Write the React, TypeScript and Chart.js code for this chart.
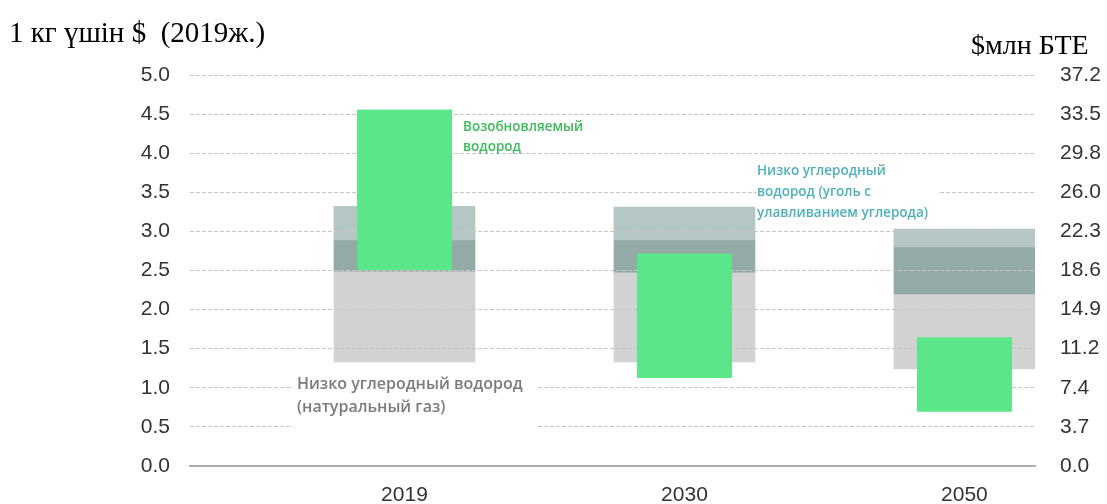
import React, { useEffect, useRef } from 'react';
import { Chart, registerables } from 'chart.js';

Chart.register(...registerables);

// ---- data ----
const categories = ['2019', '2030', '2050'];
const categoryPos = [0, 1, 2];
const natGasLow = [1.33, 1.33, 1.24];
const natGasHigh = [2.49, 2.48, 2.2];
const coalMid = [2.89, 2.89, 2.8];
const coalHigh = [3.32, 3.31, 3.03];
const renewLow = [2.51, 1.13, 0.7];
const renewHigh = [4.55, 2.71, 1.64];
const rightTicks = ['0.0', '3.7', '7.4', '11.2', '14.9', '18.6', '22.3', '26.0', '29.8', '33.5', '37.2'];

const leftTitle = '1 кг үшін $  (2019ж.)';
const rightTitle = '$млн БТЕ';

const renewLabel = ['Возобновляемый', 'водород'];
const coalLabel = ['Низко углеродный', 'водород (уголь с', 'улавливанием углерода)'];
const gasLabel = ['Низко углеродный водород', '(натуральный газ)'];

// label anchors in data units (x, y of first line centre)
const annotations = [
  { lines: renewLabel, x: 0.209, y: 4.335, color: '#3dba5c', size: 13.5, lh: 20, bg: null as null | number[] },
  { lines: coalLabel, x: 1.259, y: 3.772, color: '#4fb0bd', size: 13.5, lh: 21, bg: [0, 10, 8, 9] },
  { lines: gasLabel, x: -0.384, y: 1.049, color: '#7b7b7b', size: 16, lh: 23, bg: [4, 14, 12, 26] },
];

const floating = (lo: number[], hi: number[]) =>
  categoryPos.map((x, i) => ({ x, y: [lo[i], hi[i]] }));

const annotationPlugin = {
  id: 'annotationsAndGrid',
  afterDatasetsDraw(chart: any) {
    const ctx = chart.ctx;
    const area = chart.chartArea;
    const ys = chart.scales.y;
    const xs = chart.scales.x;
    // redraw dashed grid above grey boxes
    ctx.save();
    ctx.beginPath();
    ctx.rect(area.left, area.top - 2, area.right - area.left, area.bottom - area.top + 4);
    ctx.clip();
    ys.drawGrid(area);
    ctx.restore();
    // green bars on top of grid
    const meta = chart.getDatasetMeta(0);
    meta.controller.draw();
    // labels
    for (const a of annotations) {
      const px = xs.getPixelForValue(a.x);
      const py = ys.getPixelForValue(a.y);
      ctx.save();
      ctx.font = `600 ${a.size}px "Open Sans", sans-serif`;
      if (a.bg) {
        let w = 0;
        for (const l of a.lines) w = Math.max(w, ctx.measureText(l).width);
        const [pl, pr, pt, pb] = a.bg;
        ctx.fillStyle = '#ffffff';
        ctx.fillRect(px - pl, py - pt, w + pl + pr, (a.lines.length - 1) * a.lh + pt + pb);
      }
      ctx.fillStyle = a.color;
      ctx.textAlign = 'left';
      ctx.textBaseline = 'middle';
      a.lines.forEach((l, i) => ctx.fillText(l, px, py + i * a.lh));
      ctx.restore();
    }
  },
};

const tickFont = { family: '"Liberation Sans", Arial, sans-serif', size: 21 };

export default function App() {
  const ref = useRef<HTMLCanvasElement | null>(null);
  useEffect(() => {
    if (!ref.current) return;
    const chart = new Chart(ref.current, {
      type: 'bar',
      data: {
        datasets: [
          { label: 'renew', data: floating(renewLow, renewHigh) as any, backgroundColor: '#5be68a', barThickness: 94, grouped: false, order: 0 } as any,
          { label: 'coalTop', data: floating(coalMid, coalHigh) as any, backgroundColor: '#b4c7c4', barThickness: 141, grouped: false, order: 1 } as any,
          { label: 'coalMid', data: floating(natGasHigh, coalMid) as any, backgroundColor: '#93aaa6', barThickness: 141, grouped: false, order: 1 } as any,
          { label: 'gas', data: floating(natGasLow, natGasHigh) as any, backgroundColor: '#d2d2d2', barThickness: 141, grouped: false, order: 1 } as any,
        ],
      },
      options: {
        responsive: false,
        animation: false,
        devicePixelRatio: 1,
        layout: { padding: { top: 75, left: 0, right: 0, bottom: 0 } },
        plugins: { legend: { display: false }, tooltip: { enabled: false } },
        scales: {
          x: {
            type: 'linear',
            offset: false,
            min: -0.766,
            max: 2.252,
            afterBuildTicks: (s: any) => {
              s.ticks = categoryPos.map((v) => ({ value: v }));
            },
            afterFit: (s: any) => {
              s.height = 38;
            },
            ticks: {
              callback: (_v: any, i: number) => categories[i],
              font: tickFont,
              color: '#333333',
              padding: 17,
              maxRotation: 0,
              autoSkip: false,
            },
            grid: { display: false, drawTicks: false },
            border: { display: true, color: '#b0b0b0', width: 2 },
          },
          y: {
            position: 'left',
            min: 0,
            max: 5,
            afterFit: (s: any) => {
              s.width = 190;
            },
            ticks: {
              stepSize: 0.5,
              callback: (v: any) => Number(v).toFixed(1),
              font: tickFont,
              color: '#333333',
              padding: 20,
            },
            grid: {
              drawTicks: false,
              lineWidth: 1,
              color: (c: any) => (c.tick && c.tick.value === 0 ? 'rgba(0,0,0,0)' : '#c6c6c6'),
            },
            border: { display: false, dash: [4, 2] },
          },
          y1: {
            position: 'right',
            min: 0,
            max: 5,
            afterFit: (s: any) => {
              s.width = 72;
            },
            ticks: {
              stepSize: 0.5,
              callback: (_v: any, i: number) => rightTicks[i],
              font: tickFont,
              color: '#333333',
              padding: 25,
            },
            grid: { display: false, drawTicks: false },
            border: { display: false },
          },
        },
      } as any,
      plugins: [annotationPlugin],
    });
    return () => chart.destroy();
  }, []);

  return (
    <div style={{ position: 'fixed', left: 0, top: 0, width: 1107, height: 504, background: '#fff' }}>
      <canvas ref={ref} width={1107} height={504} style={{ position: 'absolute', left: 0, top: 0, width: 1107, height: 504 }} />
      <div style={{ position: 'absolute', left: 9, top: 16, fontFamily: '"Liberation Serif", "Times New Roman", serif', fontSize: 29, lineHeight: '32px', color: '#000', whiteSpace: 'pre' }}>
        {leftTitle}
      </div>
      <div style={{ position: 'absolute', left: 971, top: 29, fontFamily: '"Liberation Serif", "Times New Roman", serif', fontSize: 28, lineHeight: '32px', color: '#000', whiteSpace: 'pre' }}>
        {rightTitle}
      </div>
    </div>
  );
}
